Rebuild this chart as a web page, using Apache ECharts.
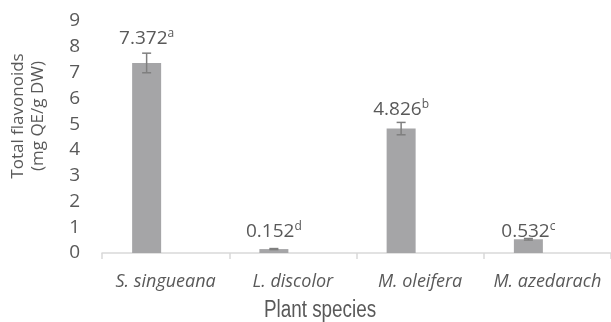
<!DOCTYPE html>
<html>
<head>
<meta charset="utf-8">
<script src="https://cdn.jsdelivr.net/npm/echarts@6/dist/echarts.min.js"></script>
<style>html,body{margin:0;padding:0;background:#fff}#c{width:611px;height:322px}</style>
</head>
<body>
<div id="c"></div>
<script>
var categories = ['S. singueana', 'L. discolor', 'M. oleifera', 'M. azedarach'];
var values = [7.372, 0.152, 4.826, 0.532];
var errors = [0.38, 0.02, 0.24, 0.03];
var letters = ['a', 'd', 'b', 'c'];
var yTicks = [0, 1, 2, 3, 4, 5, 6, 7, 8, 9];

var labelLift = [15, 17, 13, 7];
var BAR_W = 29, GAP = 0.31;
var barShift = -(BAR_W + BAR_W * GAP) / 2;

var chart = echarts.init(document.getElementById('c'), null, {renderer: 'canvas'});
chart.setOption({
  animation: false,
  grid: {left: 102, right: -7, top: 21, bottom: 69, containLabel: false},
  xAxis: {
    type: 'category',
    data: categories,
    axisLine: {lineStyle: {color: '#d9d9d9', width: 1.5}},
    axisTick: {show: true, length: 6, lineStyle: {color: '#d9d9d9', width: 1.5}},
    axisLabel: {interval: 0, color: '#595959', fontFamily: 'Open Sans', fontStyle: 'italic', fontSize: 18, margin: 20}
  },
  yAxis: {
    type: 'value',
    min: yTicks[0], max: yTicks[yTicks.length - 1], interval: 1,
    splitLine: {show: false},
    axisLine: {show: false},
    axisTick: {show: false},
    axisLabel: {color: '#595959', fontFamily: 'Open Sans', fontSize: 19, margin: 22}
  },
  graphic: [
    {type: 'group', x: 28, y: 116, rotation: Math.PI / 2, children: [
      {type: 'text', style: {text: 'Total flavonoids\n(mg QE/g DW)', x: 0, y: 0, align: 'center', verticalAlign: 'middle',
        fill: '#595959', font: '17px "Open Sans"', lineHeight: 20}}
    ]},
    {type: 'group', x: 320, y: 311, scaleX: 0.82, children: [
      {type: 'text', style: {text: 'Plant species', x: 0, y: 0, align: 'center', verticalAlign: 'middle',
        fill: '#595959', font: '23px "Liberation Sans"'}}
    ]}
  ],
  series: [
    {type: 'bar', data: values, barWidth: BAR_W, barGap: (GAP * 100) + '%',
     itemStyle: {color: '#a5a5a7'}, z: 2},
    {type: 'bar', data: values.map(function () { return null; }), barWidth: BAR_W},
    {
      type: 'custom', z: 5,
      data: values.map(function (v, i) { return [i, v, errors[i]]; }),
      renderItem: function (params, api) {
        var i = api.value(0), v = api.value(1), e = api.value(2);
        var top = api.coord([i, v + e]);
        var bot = api.coord([i, v - e]);
        var x = top[0] + barShift;
        var cap = 4.5;
        var ls = {stroke: '#7f7f7f', lineWidth: 1.5};
        return {type: 'group', children: [
          {type: 'line', shape: {x1: x, y1: top[1], x2: x, y2: bot[1]}, style: ls},
          {type: 'line', shape: {x1: x - cap, y1: top[1], x2: x + cap, y2: top[1]}, style: ls},
          {type: 'line', shape: {x1: x - cap, y1: bot[1], x2: x + cap, y2: bot[1]}, style: ls},
          {type: 'text', x: x, y: top[1] - labelLift[i], style: {
            text: '{v|' + values[i].toFixed(3) + '}{s|' + letters[i] + '}',
            align: 'center', verticalAlign: 'middle',
            rich: {
              v: {fontFamily: 'Open Sans', fontSize: 19, fill: '#595959', lineHeight: 22},
              s: {fontFamily: 'Open Sans', fontSize: 12, fill: '#595959', lineHeight: 22, verticalAlign: 'top', padding: [0, 0, 9, 0]}
            }
          }}
        ]};
      }
    }
  ]
});
</script>
</body>
</html>
